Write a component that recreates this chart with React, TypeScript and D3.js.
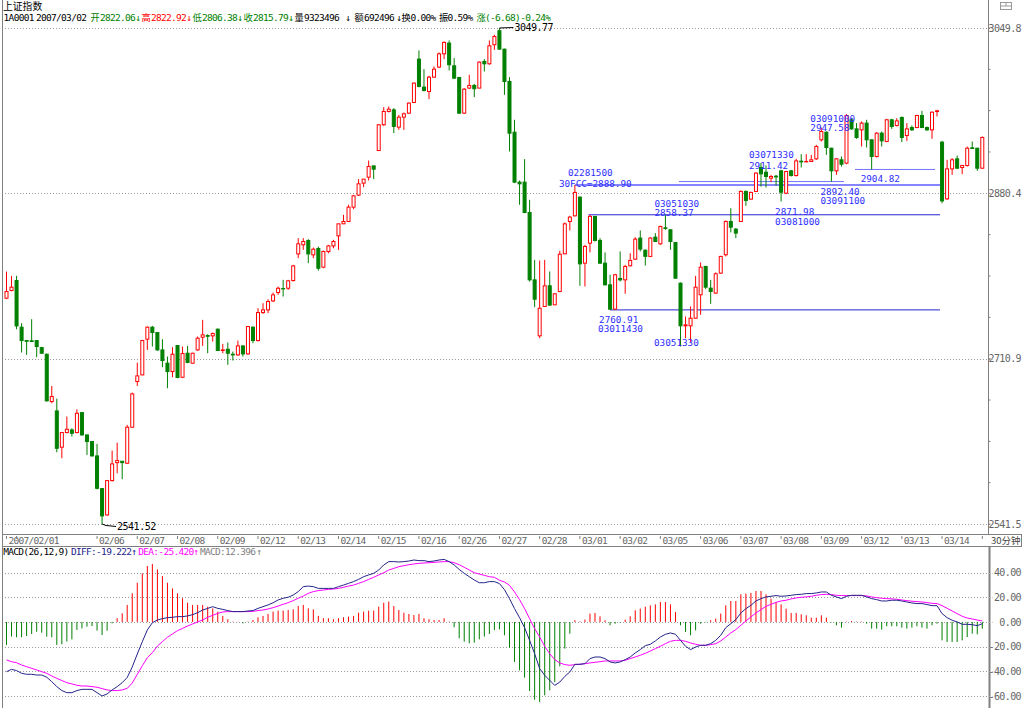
import * as d3 from 'd3';

// 30-minute bars of 上证指数 (bar 0 = 2007/02/01 14:30)
const OPEN = [
  2772.9, 2780.8, 2791.0, 2743.2, 2729.5, 2729.2, 2729.5, 2722.3, 2715.5, 2667.0,
  2657.4, 2620.2, 2635.2, 2637.9, 2635.2, 2655.7, 2632.8, 2626.0, 2611.3, 2577.8,
  2550.8, 2586.0, 2604.4, 2605.8, 2603.8, 2640.7, 2687.5, 2694.3, 2730.9, 2743.2,
  2737.7, 2719.9, 2706.3, 2697.7, 2724.4, 2691.9, 2716.5, 2706.3, 2719.9, 2732.9,
  2734.6, 2734.3, 2741.1, 2719.3, 2720.6, 2715.5, 2714.8, 2724.0, 2715.8, 2743.2,
  2729.5, 2758.2, 2760.9, 2770.1, 2778.7, 2782.8, 2783.1, 2791.0, 2818.3, 2827.6,
  2832.0, 2817.3, 2823.8, 2804.7, 2820.7, 2826.5, 2836.8, 2849.1, 2851.5, 2866.2,
  2878.5, 2890.8, 2896.9, 2908.5, 2924.2, 2950.6, 2964.2, 2965.9, 2948.2, 2958.4,
  2962.5, 2973.5, 3017.9, 2989.2, 2984.7, 2999.4, 3009.7, 3023.3, 3034.3, 3011.0,
  2999.1, 2962.5, 2988.2, 2990.9, 2988.2, 3015.5, 3013.1, 3032.6, 3047.0, 3028.1,
  2995.0, 2943.0, 2891.8, 2891.8, 2860.7, 2791.7, 2734.3, 2764.4, 2785.6, 2766.1,
  2779.8, 2818.4, 2851.5, 2857.3, 2876.5, 2808.8, 2829.3, 2856.7, 2832.1, 2808.8,
  2786.6, 2761.7, 2793.1, 2791.7, 2806.1, 2812.9, 2834.5, 2822.06, 2815.7, 2835.5,
  2828.6, 2845.0, 2843.0, 2830.0, 2788.3, 2744.6, 2744.6, 2752.4, 2776.4, 2805.4,
  2783.2, 2778.1, 2798.6, 2817.4, 2851.5, 2843.7, 2851.5, 2882.3, 2874.4, 2882.3,
  2906.8, 2902.0, 2895.9, 2897.9, 2903.4, 2880.5, 2903.4, 2898.6, 2913.3, 2912.6,
  2913.0, 2915.7, 2935.2, 2943.0, 2926.6, 2903.4, 2914.7, 2911.3, 2955.7, 2946.4,
  2945.4, 2952.3, 2935.2, 2918.1, 2942.0, 2933.5, 2955.7, 2949.9, 2958.1, 2939.6,
  2947.8, 2947.8, 2960.1, 2947.8, 2945.4, 2964.2, 2932.8, 2874.7, 2905.4, 2915.7,
  2906.8, 2908.9, 2927.0, 2926.6, 2906.1,
];
const HIGH = [
  2800.2, 2795.8, 2795.8, 2747.3, 2730.0, 2751.4, 2729.8, 2723.0, 2716.0, 2683.0,
  2670.0, 2635.2, 2651.6, 2639.6, 2659.1, 2656.0, 2633.0, 2626.5, 2623.6, 2578.0,
  2586.7, 2616.7, 2624.9, 2606.0, 2643.1, 2676.2, 2706.9, 2730.2, 2743.9, 2744.5,
  2738.0, 2730.9, 2713.1, 2722.7, 2725.0, 2723.4, 2724.0, 2717.0, 2733.6, 2750.7,
  2736.0, 2737.7, 2742.0, 2726.1, 2727.5, 2718.2, 2729.5, 2724.5, 2744.0, 2744.0,
  2762.7, 2767.8, 2771.8, 2778.7, 2784.8, 2791.7, 2791.7, 2807.1, 2834.4, 2834.4,
  2833.4, 2824.8, 2825.8, 2821.7, 2827.6, 2832.7, 2849.1, 2858.3, 2868.6, 2878.8,
  2894.9, 2895.0, 2914.0, 2908.5, 2951.3, 2968.7, 2969.4, 2967.6, 2960.8, 2963.2,
  2973.5, 2994.0, 3026.8, 3007.6, 3000.8, 3010.4, 3024.7, 3036.0, 3037.0, 3018.9,
  2999.5, 2988.2, 3001.8, 2992.6, 3015.5, 3017.9, 3037.0, 3042.8, 3049.77, 3028.5,
  2999.4, 2955.7, 2893.5, 2915.4, 2873.7, 2812.2, 2811.5, 2812.2, 2800.3, 2778.1,
  2821.5, 2850.5, 2857.3, 2888.9, 2877.0, 2827.6, 2858.4, 2857.0, 2834.5, 2819.8,
  2796.9, 2797.9, 2820.8, 2807.1, 2819.1, 2835.5, 2842.3, 2822.92, 2835.5, 2839.6,
  2847.1, 2858.37, 2843.7, 2830.5, 2789.0, 2754.2, 2764.4, 2795.8, 2809.5, 2806.1,
  2791.7, 2799.3, 2816.3, 2852.6, 2865.2, 2844.7, 2883.3, 2883.3, 2882.0, 2901.8,
  2911.42, 2908.9, 2899.3, 2899.3, 2904.4, 2903.4, 2904.4, 2915.7, 2920.5, 2920.5,
  2919.8, 2930.0, 2947.58, 2943.7, 2927.0, 2916.4, 2918.1, 2961.5, 2957.4, 2952.3,
  2954.0, 2955.7, 2935.5, 2943.0, 2943.7, 2956.7, 2956.7, 2957.4, 2959.1, 2952.3,
  2949.9, 2960.8, 2964.9, 2948.8, 2964.2, 2965.9, 2934.1, 2914.7, 2916.4, 2919.1,
  2909.5, 2928.3, 2933.5, 2927.0, 2938.6,
];
const LOW = [
  2772.0, 2780.0, 2741.1, 2717.2, 2714.8, 2728.0, 2712.4, 2716.0, 2667.0, 2665.3,
  2615.0, 2608.9, 2634.5, 2631.1, 2634.5, 2632.0, 2612.3, 2610.6, 2577.0, 2541.52,
  2550.0, 2585.0, 2593.5, 2587.4, 2603.0, 2640.0, 2683.0, 2694.0, 2719.9, 2723.4,
  2719.0, 2702.2, 2680.6, 2691.9, 2691.0, 2691.0, 2706.3, 2706.0, 2719.0, 2724.0,
  2716.5, 2728.5, 2719.0, 2716.5, 2704.6, 2709.0, 2713.8, 2713.1, 2715.0, 2726.8,
  2728.5, 2756.8, 2757.5, 2769.0, 2776.3, 2774.6, 2781.4, 2790.0, 2813.9, 2822.4,
  2808.8, 2813.9, 2801.2, 2803.6, 2819.0, 2824.1, 2822.4, 2849.0, 2851.0, 2864.1,
  2877.8, 2886.7, 2893.5, 2894.9, 2923.9, 2949.5, 2963.2, 2942.0, 2945.4, 2945.4,
  2961.8, 2973.0, 2989.0, 2984.7, 2976.9, 2999.0, 3008.7, 3017.9, 3006.3, 2997.4,
  2961.8, 2961.8, 2987.1, 2978.9, 2988.0, 3005.2, 3012.1, 3027.4, 3027.4, 2981.3,
  2923.2, 2890.8, 2868.6, 2860.0, 2790.0, 2763.7, 2731.9, 2764.0, 2765.1, 2766.0,
  2779.0, 2818.0, 2842.3, 2856.7, 2785.6, 2784.9, 2819.8, 2831.0, 2808.1, 2786.0,
  2760.91, 2761.0, 2790.0, 2777.4, 2805.4, 2812.2, 2820.8, 2806.38, 2815.0, 2831.0,
  2827.6, 2843.0, 2822.5, 2793.0, 2723.4, 2731.9, 2727.5, 2752.0, 2755.9, 2782.2,
  2767.1, 2777.4, 2798.0, 2815.7, 2840.3, 2834.5, 2851.0, 2867.6, 2874.0, 2882.0,
  2887.3, 2886.3, 2891.8, 2888.4, 2871.98, 2879.5, 2897.6, 2897.6, 2906.8, 2912.3,
  2912.6, 2914.7, 2933.5, 2919.8, 2892.4, 2899.3, 2907.8, 2910.2, 2945.4, 2936.2,
  2928.3, 2927.3, 2904.82, 2917.1, 2928.3, 2932.8, 2946.4, 2948.8, 2932.8, 2934.1,
  2944.4, 2947.1, 2947.1, 2944.4, 2936.2, 2959.1, 2870.2, 2873.7, 2899.3, 2905.4,
  2900.0, 2907.8, 2926.0, 2903.4, 2905.4,
];
const CLOSE = [
  2779.7, 2784.2, 2744.5, 2729.5, 2728.8, 2728.5, 2723.4, 2716.5, 2667.7, 2672.1,
  2619.1, 2635.2, 2638.6, 2634.5, 2655.0, 2632.8, 2626.0, 2611.3, 2578.1, 2549.8,
  2586.0, 2603.1, 2606.5, 2604.4, 2640.7, 2674.8, 2693.3, 2729.5, 2743.2, 2737.7,
  2719.9, 2709.0, 2697.7, 2715.5, 2691.6, 2716.2, 2707.0, 2716.5, 2731.9, 2735.3,
  2733.9, 2736.7, 2719.3, 2719.9, 2716.5, 2714.8, 2724.0, 2715.8, 2743.9, 2729.5,
  2758.2, 2760.9, 2769.5, 2776.3, 2783.1, 2782.4, 2790.7, 2806.0, 2828.6, 2831.0,
  2818.3, 2823.1, 2803.6, 2820.7, 2826.5, 2831.0, 2849.1, 2851.5, 2866.2, 2877.8,
  2890.1, 2894.9, 2907.9, 2905.1, 2950.6, 2964.2, 2966.6, 2948.9, 2958.4, 2961.8,
  2972.8, 2993.3, 2989.9, 2985.8, 2999.4, 3007.6, 3023.3, 3035.0, 3012.1, 2998.4,
  2962.5, 2987.1, 2990.9, 2987.5, 3014.8, 3013.1, 3031.5, 3041.1, 3028.1, 2995.0,
  2942.0, 2891.8, 2890.1, 2860.7, 2791.7, 2771.9, 2762.6, 2785.6, 2765.8, 2777.4,
  2818.0, 2849.1, 2856.0, 2881.3, 2808.1, 2825.9, 2856.7, 2832.1, 2808.8, 2786.6,
  2761.7, 2796.9, 2791.7, 2805.4, 2811.6, 2833.4, 2823.2, 2815.79, 2834.5, 2831.0,
  2846.4, 2844.4, 2831.0, 2793.4, 2744.6, 2745.6, 2752.4, 2784.2, 2804.7, 2784.2,
  2779.8, 2797.9, 2815.7, 2851.5, 2845.7, 2839.6, 2882.3, 2873.1, 2881.3, 2901.1,
  2900.3, 2897.6, 2897.6, 2897.2, 2881.5, 2902.7, 2898.6, 2913.6, 2912.6, 2913.0,
  2914.7, 2928.3, 2943.7, 2927.3, 2903.4, 2915.7, 2910.2, 2960.1, 2946.4, 2937.6,
  2952.3, 2935.2, 2918.1, 2942.0, 2934.1, 2955.7, 2948.8, 2954.6, 2937.6, 2946.4,
  2945.4, 2960.1, 2947.8, 2945.4, 2963.5, 2964.9, 2872.6, 2905.4, 2914.7, 2906.1,
  2908.9, 2926.6, 2926.3, 2906.1, 2937.6,
];

// MACD(26,12,9) panel
const DIFF = [
  -40.3, -38.4, -39.4, -41.6, -42.4, -42.4, -43.0, -43.0, -44.8, -48.4,
  -52.4, -55.6, -57.3, -57.3, -55.6, -54.6, -54.6, -54.6, -57.3, -60.0,
  -58.3, -55.1, -52.4, -49.2, -45.0, -36.5, -26.0, -16.0, -6.5, -0.6,
  1.6, 2.7, 3.5, 3.8, 4.3, 4.3, 4.9, 5.9, 7.5, 9.7,
  11.0, 12.4, 11.0, 10.2, 9.2, 8.4, 8.4, 8.4, 8.9, 9.2,
  11.0, 12.4, 13.8, 15.6, 17.8, 19.2, 20.0, 21.8, 24.6, 28.6,
  29.1, 28.6, 27.2, 27.2, 27.2, 27.2, 28.6, 29.9, 31.3, 32.7,
  34.5, 36.7, 38.1, 39.4, 42.1, 46.2, 48.9, 48.9, 48.6, 48.9,
  49.4, 50.2, 49.7, 49.7, 48.9, 49.4, 50.2, 50.7, 48.9, 46.2,
  42.6, 39.4, 36.7, 34.0, 31.8, 31.8, 32.7, 32.7, 31.1, 26.2,
  18.9, 10.8, 3.5, -4.6, -14.9, -25.7, -37.8, -43.2, -47.3, -51.4,
  -48.7, -44.1, -40.5, -34.3, -34.3, -33.8, -29.7, -28.4, -28.4, -29.7,
  -32.4, -33.2, -32.4, -30.5, -28.4, -25.1, -22.4, -19.222, -18.1, -15.4,
  -12.2, -10.0, -8.9, -10.0, -14.9, -19.7, -22.4, -20.3, -18.9, -18.9,
  -17.6, -14.9, -10.8, -4.6, -1.4, 1.9, 7.3, 10.8, 13.5, 17.0,
  18.9, 20.3, 20.8, 21.4, 20.8, 21.1, 21.6, 22.2, 22.4, 23.0,
  23.0, 23.5, 24.3, 24.3, 21.6, 20.3, 18.9, 20.8, 21.6, 21.6,
  21.6, 20.3, 18.9, 18.1, 17.0, 17.0, 17.6, 17.6, 17.0, 16.2,
  15.4, 14.9, 14.9, 14.1, 13.2, 13.2, 6.8, 3.5, 1.4, 0.0,
  -1.9, -1.9, -2.2, -3.0, -1.4,
];
const DEA = [
  -30.8, -32.2, -33.0, -34.9, -36.2, -37.6, -38.9, -40.3, -41.6, -43.8,
  -45.7, -47.5, -49.2, -50.2, -51.3, -51.9, -51.9, -52.4, -52.9, -54.0,
  -55.1, -55.6, -55.6, -55.1, -53.8, -49.5, -42.5, -35.5, -29.0, -24.9,
  -19.5, -15.9, -12.4, -9.7, -7.0, -5.2, -3.3, -1.6, 0.0, 1.6,
  3.8, 5.4, 7.0, 8.1, 8.4, 8.4, 8.4, 8.4, 8.4, 8.6,
  9.2, 9.7, 10.5, 11.6, 12.9, 14.3, 15.6, 17.3, 19.2, 21.0,
  23.2, 24.6, 25.4, 25.9, 26.4, 26.7, 27.2, 28.1, 29.1, 29.9,
  31.3, 32.7, 34.5, 36.2, 38.1, 39.9, 42.1, 43.4, 44.8, 45.6,
  46.4, 47.0, 47.5, 47.8, 48.0, 48.3, 48.6, 48.9, 48.9, 48.0,
  46.4, 44.3, 42.1, 39.9, 38.8, 37.8, 36.7, 36.2, 33.8, 32.4,
  29.7, 24.3, 18.1, 10.8, 2.7, -5.4, -12.2, -19.7, -25.7, -30.5,
  -33.2, -34.6, -35.1, -34.6, -34.3, -33.8, -33.2, -32.7, -32.2, -31.6,
  -31.6, -31.6, -31.6, -31.1, -29.7, -28.4, -27.0, -25.42, -23.5, -21.6,
  -19.7, -17.6, -15.7, -14.9, -14.9, -15.7, -17.0, -18.1, -18.9, -18.9,
  -18.4, -17.6, -15.4, -12.2, -8.9, -6.2, -2.7, 0.8, 4.1, 7.3,
  10.0, 12.7, 14.3, 15.9, 17.0, 17.6, 18.7, 19.5, 20.0, 20.3,
  20.8, 21.6, 22.2, 22.4, 22.2, 21.6, 21.4, 21.4, 21.4, 21.4,
  21.4, 21.1, 20.3, 19.7, 19.2, 18.9, 18.7, 18.4, 17.8, 17.3,
  16.8, 16.5, 16.2, 15.7, 15.1, 14.9, 13.2, 11.1, 8.9, 6.8,
  4.6, 3.2, 2.4, 1.6, 0.8,
];
const MACD = [
  -18.6, -11.9, -12.4, -12.4, -11.4, -9.7, -7.9, -8.7, -11.9, -12.4,
  -18.6, -18.1, -15.9, -14.1, -6.5, -5.2, -3.8, -3.3, -7.0, -10.6,
  -7.0, -1.1, 3.0, 7.0, 13.8, 23.2, 31.8, 39.4, 45.3, 47.0,
  42.6, 37.2, 31.8, 27.2, 23.2, 19.2, 15.6, 13.8, 13.8, 13.8,
  12.4, 11.0, 8.4, 4.9, 2.2, 0.3, 0.2, -1.1, 0.3, 1.6,
  3.8, 4.9, 6.5, 8.4, 9.2, 9.2, 9.7, 10.2, 12.9, 13.8,
  11.0, 10.2, 4.9, 3.0, 3.0, 2.2, 3.0, 3.8, 4.3, 4.9,
  7.5, 8.4, 9.2, 9.2, 12.4, 15.6, 16.5, 12.9, 9.7, 7.5,
  6.5, 5.7, 6.5, 3.0, 2.2, 1.6, 1.6, 3.0, 0.3, -4.3,
  -13.2, -16.0, -17.3, -16.8, -14.1, -11.9, -9.7, -6.5, -6.0, -10.8,
  -20.8, -32.4, -39.2, -45.1, -56.0, -63.0, -64.9, -59.5, -55.4, -48.7,
  -36.0, -21.6, -9.5, 1.4, 0.5, 1.9, 6.8, 7.3, 4.6, 1.4,
  -2.7, -1.4, -0.5, 1.9, 4.6, 9.5, 10.8, 12.396, 13.5, 14.3,
  16.2, 16.2, 14.3, 8.1, -2.7, -8.1, -10.8, -6.8, -1.4, -0.3,
  1.4, 2.7, 6.8, 13.5, 17.0, 17.0, 22.4, 23.0, 23.5, 25.1,
  25.1, 22.4, 18.9, 16.2, 14.3, 10.8, 7.3, 7.3, 6.2, 5.4,
  3.5, 3.5, 5.4, 3.5, -0.3, -2.7, -4.6, 0.3, 0.8, 0.3,
  0.3, -1.4, -5.4, -5.4, -6.2, -3.5, -3.5, -3.5, -4.6, -5.4,
  -4.6, -3.5, -4.6, -5.4, -2.7, -1.4, -14.9, -16.2, -16.2, -16.2,
  -14.9, -12.2, -9.5, -10.0, -5.4,
];

// first bar of each trading day, and its label
const DAY_START = [0, 2, 10, 18, 26, 34, 42, 50, 58, 66, 74, 82, 90, 98, 106, 114, 122, 130, 138, 146, 154, 162, 170, 178, 186, 194];
const DAY_LABEL = ['2007/02/01', '02/02', '02/05', '02/06', '02/07', '02/08', '02/09', '02/12', '02/13', '02/14', '02/15', '02/16', '02/26', '02/27', '02/28', '03/01', '03/02', '03/05', '03/06', '03/07', '03/08', '03/09', '03/12', '03/13', '03/14', '03/15'];

const PRICE_TICKS = [3049.8, 2880.4, 2710.9, 2541.5];
const MACD_TICKS = [40, 20, 0, -20, -40, -60];

// marked highs / lows (bar, price, text lines)
const MARK_BAR = [113, 131, 120, 134, 150, 164, 154, 172, 162];
const MARK_PRICE = [2888.9, 2858.37, 2760.91, 2723.4, 2911.42, 2892.4, 2871.98, 2904.82, 2947.58];
const MARK_TEXT = [
  ['02281500', '30FCC=2888.90'],
  ['03051030', '2858.37'],
  ['2760.91', '03011430'],
  ['03051330'],
  ['03071330', '2911.42'],
  ['2892.40', '03091100'],
  ['2871.98', '03081000'],
  ['2904.82'],
  ['03091000', '2947.58'],
];
// horizontal level lines: price, first bar, last bar
const LEVEL_PRICE = [2888.9, 2858.37, 2760.91, 2892.4, 2904.82];
const LEVEL_FROM = [113, 115.7, 120, 133.7, 168.7];
const LEVEL_TO = [185.6, 185.6, 185.6, 166.5, 184.6];

const CUR = 127; // bar under the cursor (2007/03/02)

const RED = '#ff0000';
const GREEN = '#008000';
const NAVY = '#24248a';
const MAGENTA = '#ff00ff';
const BLUE = '#2e2eff';
const GRAY = '#808080';
const TXT = '#666666';
const MONO = "'DejaVu Sans Mono', 'Liberation Mono', monospace";
const CJK = "'Noto Sans CJK SC', sans-serif";

// label placement per mark: [dx, dy] for each text line (relative to bar / price)
const MARK_OFFSET = [
  [[-7, -12], [-16, -1]],
  [[-11, -11], [-11, -2]],
  [[-11, 10], [-12, 18.5]],
  [[-26.5, -3.5]],
  [[-12, -8.5], [-12, 3]],
  [[-11, 10.4], [-11, 19.4]],
  [[-6, 10.5], [-6, 20.5]],
  [[-11, 9.5]],
  [[-11, -9], [-11, -0.5]],
];

function Mono({ x, y, fill = '#000', size = 9.5, ls = -0.7, children, anchor = 'start' }: any) {
  return (
    <text x={x} y={y} dy="0.36em" fill={fill} fontFamily={MONO} fontSize={size} letterSpacing={ls} textAnchor={anchor}>
      {children}
    </text>
  );
}

function Cjk({ x, y, fill = '#000', size = 10, children }: any) {
  return (
    <text x={x} y={y} dy="0.36em" fill={fill} fontFamily={CJK} fontSize={size}>
      {children}
    </text>
  );
}

export default function App() {
  const n = OPEN.length;
  const x = d3.scaleLinear().domain([0, n - 1]).range([6.5, 982.3]);
  const lo = d3.min(LOW) as number;
  const hi = d3.max(HIGH) as number;
  const y = d3.scaleLinear().domain([lo, hi]).range([524, 28]);
  const ym = d3.scaleLinear().domain([-60, 40]).range([696, 572.6]);

  const AX = 988.5;
  const line = (vals: number[]) =>
    d3.line<number>().x((_, i) => x(i)).y((d) => ym(d))(vals) || '';

  // date labels: skip the ones that would overlap or run into the axis
  const shown: boolean[] = [];
  let lastEnd = -100;
  DAY_START.forEach((b, k) => {
    const lx = x(b) + 2;
    const w = DAY_LABEL[k].length * 5;
    const ok = lx > lastEnd + 6 && lx + w < AX - 2;
    shown.push(ok);
    if (ok) lastEnd = lx + w;
  });

  const f2 = (v: number) => v.toFixed(2);
  const hdrY = 17.8;
  const header: [string, number, string, boolean][] = [
    ['1A0001', 3.6, '#000', false],
    ['2007/03/02', 36, '#000', false],
    ['开', 90.5, GREEN, true], [f2(OPEN[CUR]), 100, GREEN, false], ['↓', 135.5, GREEN, false],
    ['高', 141.5, RED, true], [f2(HIGH[CUR]), 151, RED, false], ['↓', 186.5, RED, false],
    ['低', 192.5, GREEN, true], [f2(LOW[CUR]), 202, GREEN, false], ['↓', 237.5, GREEN, false],
    ['收', 243.5, GREEN, true], [f2(CLOSE[CUR]), 253, GREEN, false], ['↓', 288.5, GREEN, false],
    ['量', 294.5, '#000', true], ['9323496', 304, '#000', false], ['↓', 345.5, '#000', false],
    ['额', 354.5, '#000', true], ['692496', 364, '#000', false], ['↓', 396.5, '#000', false],
    ['换', 401.5, '#000', true], ['0.00%', 410.5, '#000', false],
    ['振', 439, '#000', true], ['0.59%', 447.5, '#000', false],
    ['涨', 476.5, GREEN, true], ['(-6.68)-0.24%', 485, GREEN, false],
  ];

  return (
    <svg width={1024} height={708} style={{ position: 'absolute', left: 0, top: 0, background: '#fff' }}>
      <rect x={0} y={0} width={1024} height={708} fill="#fff" />

      {/* frame */}
      <line x1={2.5} x2={2.5} y1={0} y2={708} stroke={GRAY} />
      <line x1={AX} x2={AX} y1={0} y2={534} stroke={GRAY} />
      <line x1={989.5} x2={989.5} y1={546} y2={708} stroke={GRAY} strokeWidth={2} />
      <line x1={2.5} x2={1022} y1={534.5} y2={534.5} stroke={GRAY} />
      <line x1={2.5} x2={1022} y1={546.5} y2={546.5} stroke={GRAY} />
      <line x1={1021.5} x2={1021.5} y1={534.5} y2={546.5} stroke={GRAY} />
      <rect x={1000.5} y={2.5} width={11} height={7} fill="none" stroke="#999" />
      <line x1={1000.5} x2={1011.5} y1={6} y2={6} stroke="#999" />
      <line x1={1006} x2={1006} y1={2.5} y2={6} stroke="#999" />

      {/* header */}
      <Cjk x={3} y={6.2} size={9.8}>上证指数</Cjk>
      {header.map(([t, hx, c, cjk], i) =>
        cjk ? (
          <Cjk key={i} x={hx} y={hdrY} fill={c} size={9.3}>{t}</Cjk>
        ) : (
          <Mono key={i} x={hx} y={hdrY} fill={c}>{t}</Mono>
        )
      )}

      {/* price grid + axis */}
      {PRICE_TICKS.map((t) => (
        <g key={t}>
          <line x1={5} x2={AX + 4} y1={Math.round(y(t)) + 0.5} y2={Math.round(y(t)) + 0.5} stroke="#9a9a9a" strokeDasharray="1 2" />
          <Mono x={1021} y={y(t)} fill={TXT} anchor="end" size={10} ls={-0.6}>{t.toFixed(1)}</Mono>
        </g>
      ))}
      {d3.range(0, 13).map((k) => {
        const ty = y(PRICE_TICKS[3]) + (y(PRICE_TICKS[0]) - y(PRICE_TICKS[3])) * (k / 12);
        return <line key={k} x1={AX} x2={AX + 2} y1={ty} y2={ty} stroke={GRAY} />;
      })}

      {/* level lines */}
      {LEVEL_PRICE.map((p, k) => (
        <line
          key={k}
          x1={x(LEVEL_FROM[k])}
          x2={x(LEVEL_TO[k])}
          y1={y(p)}
          y2={y(p)}
          stroke={k === 0 ? '#8585ff' : k < 3 ? '#2424d0' : '#7272ff'}
          strokeWidth={k === 0 ? 2 : 1}
        />
      ))}

      {/* candles */}
      {OPEN.map((o, i) => {
        const c = CLOSE[i];
        const up = c >= o;
        const col = up ? RED : GREEN;
        const cx = x(i);
        const top = y(Math.max(o, c));
        const bot = y(Math.min(o, c));
        return (
          <g key={i}>
            <line x1={cx} x2={cx} y1={y(HIGH[i])} y2={y(LOW[i])} stroke={col} />
            <rect
              x={cx - 1.5}
              y={top}
              width={3}
              height={Math.max(bot - top, 0.3)}
              fill={up ? '#fff' : col}
              stroke={col}
            />
          </g>
        );
      })}

      {/* max / min */}
      <line x1={x(98)} x2={x(98) + 14} y1={y(hi)} y2={y(hi) - 0.5} stroke="#000" />
      <Mono x={x(98) + 15} y={y(hi) - 0.5} size={10} ls={-0.5}>{hi.toFixed(2)}</Mono>
      <polyline
        points={`${x(19)},${y(lo)} ${x(19) + 4},${y(lo) + 1.5} ${x(19) + 14},${y(lo) + 2.5}`}
        fill="none"
        stroke="#000"
      />
      <Mono x={x(19) + 15} y={y(lo) + 2.5} size={10} ls={-0.5}>{lo.toFixed(2)}</Mono>

      {/* marks */}
      {MARK_BAR.map((b, k) =>
        MARK_TEXT[k].map((t, j) => (
          <Mono
            key={`${k}-${j}`}
            x={x(b) + MARK_OFFSET[k][j][0]}
            y={y(MARK_PRICE[k]) + MARK_OFFSET[k][j][1]}
            fill={BLUE}
            size={9.3}
            ls={0}
          >
            {t}
          </Mono>
        ))
      )}

      {/* date axis */}
      {DAY_START.map((b, k) => (
        <g key={k}>
          <line x1={x(b)} x2={x(b)} y1={536} y2={539} stroke={GRAY} />
          {shown[k] && (
            <Mono x={x(b) + 2} y={540.5} fill={TXT} size={9.5} ls={-0.7}>{DAY_LABEL[k]}</Mono>
          )}
        </g>
      ))}
      <text x={991} y={540.5} dy="0.36em" fontFamily={CJK} fontSize={9.5} fill="#444">30分钟</text>

      {/* MACD header */}
      <Mono x={3.3} y={552} fill="#000">MACD(26,12,9)</Mono>
      <Mono x={71} y={552} fill={NAVY}>{`DIFF:${DIFF[CUR].toFixed(3)}`}</Mono>
      <Mono x={131.5} y={552} fill={NAVY}>↑</Mono>
      <Mono x={138.3} y={552} fill={MAGENTA}>{`DEA:${DEA[CUR].toFixed(3)}`}</Mono>
      <Mono x={193.5} y={552} fill={MAGENTA}>↑</Mono>
      <Mono x={200} y={552} fill={GRAY}>{`MACD:${MACD[CUR].toFixed(3)}`}</Mono>
      <Mono x={256.5} y={552} fill={GRAY}>↑</Mono>

      {/* MACD grid + axis */}
      {MACD_TICKS.map((t) => (
        <g key={t}>
          <line x1={5} x2={AX + 4} y1={Math.round(ym(t)) + 0.5} y2={Math.round(ym(t)) + 0.5} stroke="#9a9a9a" strokeDasharray="1 2" />
          <Mono x={1021} y={ym(t)} fill={TXT} anchor="end" size={10} ls={-0.6}>{t.toFixed(2)}</Mono>
        </g>
      ))}

      {/* MACD histogram */}
      {MACD.map((v, i) => (
        <line key={i} x1={x(i)} x2={x(i)} y1={ym(0)} y2={ym(v)} stroke={v >= 0 ? RED : GREEN} />
      ))}
      <path d={line(DEA)} fill="none" stroke={MAGENTA} strokeWidth={1} />
      <path d={line(DIFF)} fill="none" stroke={NAVY} strokeWidth={1} />
    </svg>
  );
}
